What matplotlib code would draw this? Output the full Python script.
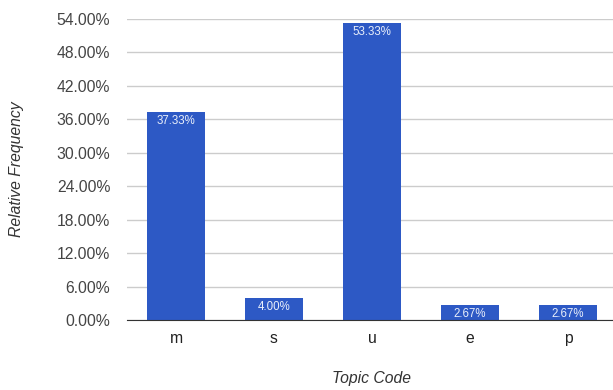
import matplotlib
matplotlib.use("Agg")
import matplotlib.pyplot as plt

categories = ["m", "s", "u", "e", "p"]
values = [37.33, 4.00, 53.33, 2.67, 2.67]
yticks = [0, 6, 12, 18, 24, 30, 36, 42, 48, 54]

plt.rcParams['font.family'] = ['Liberation Sans', 'DejaVu Sans']
W, H = 613, 390
fig = plt.figure(figsize=(W/100, H/100), dpi=100)
ax = fig.add_axes([127/W, 70/H, 490/W, 301/H])

x = list(range(len(categories)))
ax.bar(x, values, width=0.6, color="#2d59c5", zorder=2)
for xi, v in zip(x, values):
    ax.text(xi, v - 0.6, f"{v:.2f}%", ha="center", va="top", color="#e8eefa", fontsize=8.3, zorder=3)

ax.set_xlim(-0.5, 4.5)
ax.set_ylim(0, 54)
ax.set_yticks(yticks)
ax.set_yticklabels([f"{t:.2f}%" for t in yticks], fontsize=11.3, color="#444444")
ax.set_xticks(x)
ax.set_xticklabels(categories, fontsize=11.3, color="#222222")
ax.tick_params(axis="both", length=0)
ax.tick_params(axis="y", pad=12)
ax.tick_params(axis="x", pad=8)
ax.grid(axis="y", color="#cccccc", linewidth=1, zorder=0)
for s in ["top", "right", "left"]:
    ax.spines[s].set_visible(False)
ax.spines["bottom"].set_color("#333333")
ax.spines["bottom"].set_zorder(4)
ax.set_xlabel("Topic Code", fontsize=11.3, style="italic", color="#333333", va="center")
ax.set_ylabel("Relative Frequency", fontsize=11.3, style="italic", color="#333333", va="center")
ax.xaxis.set_label_coords(0.5, -59/301)
ax.yaxis.set_label_coords(-110/490, 0.5)
fig.savefig("out.png", dpi=100)
